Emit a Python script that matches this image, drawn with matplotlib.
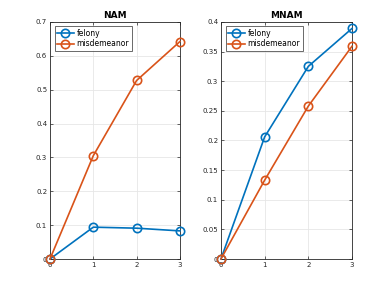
import matplotlib
matplotlib.use("Agg")
import matplotlib.pyplot as plt
from matplotlib.ticker import FuncFormatter, MultipleLocator

rounds = [0, 1, 2, 3]
nam_felony = [0, 0.094, 0.091, 0.083]
nam_misd = [0, 0.305, 0.527, 0.642]
mnam_felony = [0, 0.206, 0.325, 0.389]
mnam_misd = [0, 0.133, 0.258, 0.359]

BLUE, ORANGE = "#0072BD", "#D95319"
AX = "#262626"

fig = plt.figure(figsize=(3.89, 2.92), dpi=100)
ax1 = fig.add_axes([0.1285, 0.113, 0.334, 0.812])
ax2 = fig.add_axes([0.568, 0.113, 0.337, 0.812])

panels = [
    (ax1, "NAM", nam_felony, nam_misd, 0.7, 0.1),
    (ax2, "MNAM", mnam_felony, mnam_misd, 0.4, 0.05),
]
for ax, title, fel, mis, ymax, step in panels:
    ax.plot(rounds, fel, color=BLUE, marker="o", mfc="none", ms=6, mew=1.2,
            lw=1.2, label="felony", clip_on=False, zorder=3)
    ax.plot(rounds, mis, color=ORANGE, marker="o", mfc="none", ms=6, mew=1.2,
            lw=1.2, label="misdemeanor", clip_on=False, zorder=3)
    ax.set_xlim(0, 3)
    ax.set_ylim(0, ymax)
    ax.xaxis.set_major_locator(MultipleLocator(1))
    ax.yaxis.set_major_locator(MultipleLocator(step))
    ax.yaxis.set_major_formatter(FuncFormatter(lambda v, p: "%g" % round(v, 4)))
    ax.set_title(title, fontsize=6.5, fontweight="bold", color="black", pad=3)
    ax.tick_params(direction="in", top=True, right=True, labelsize=5,
                   colors=AX, length=2.5, width=0.5, pad=2)
    ax.grid(True, color="#e6e6e6", linewidth=0.6)
    ax.set_axisbelow(True)
    for s in ax.spines.values():
        s.set_color(AX)
        s.set_linewidth(0.6)
    for lbl in ax.get_xticklabels() + ax.get_yticklabels():
        lbl.set_color(AX)
    leg = ax.legend(loc="upper left", fontsize=5.5, frameon=True, fancybox=False,
                    handlelength=2.2, borderpad=0.3, labelspacing=0.2,
                    handletextpad=0.4, borderaxespad=0.6)
    leg.get_frame().set_edgecolor(AX)
    leg.get_frame().set_linewidth(0.6)

fig.savefig("out.png", dpi=100, facecolor="white")
